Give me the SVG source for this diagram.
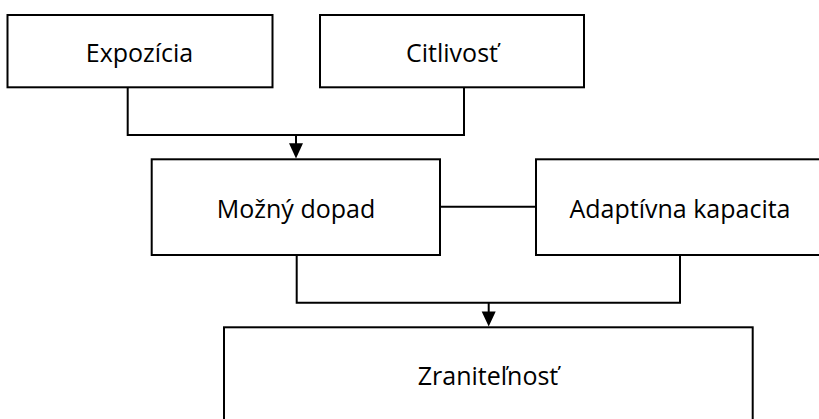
<svg xmlns="http://www.w3.org/2000/svg" width="819" height="419" viewBox="0 0 819 419">
<style>
.box{fill:#fff;stroke:#000;stroke-width:2}
.lbl{font-family:"Open Sans","Noto Sans",sans-serif;font-size:25px;fill:#000;text-anchor:middle}
.con{fill:none;stroke:#000;stroke-width:2}
.head{fill:#000}
</style>
<rect width="819" height="419" fill="#fff"/>
<g id="connectors">
<polyline class="con" points="127.7,87.3 127.7,135 464,135 464,87.3"/>
<line class="con" x1="296" y1="135" x2="296" y2="145"/>
<polygon class="head" points="289,143.3 303,143.3 296,158.5"/>
<line class="con" x1="440" y1="206.7" x2="536" y2="206.7"/>
<polyline class="con" points="296.7,255 296.7,302.7 680,302.7 680,255"/>
<line class="con" x1="488.7" y1="302.7" x2="488.7" y2="313"/>
<polygon class="head" points="481.7,311.5 495.7,311.5 488.7,326.5"/>
</g>
<g id="expozicia">
<rect class="box" x="7.5" y="15" width="265" height="72.3"/>
<text class="lbl" x="139.5" y="61.7">Expozícia</text>
</g>
<g id="citlivost">
<rect class="box" x="320" y="15" width="264" height="72.3"/>
<text class="lbl" x="452" y="61.7">Citlivosť</text>
</g>
<g id="mozny-dopad">
<rect class="box" x="151.7" y="159.3" width="288.3" height="95.7"/>
<text class="lbl" x="296" y="218.3">Možný dopad</text>
</g>
<g id="adaptivna-kapacita">
<rect class="box" x="536" y="159.3" width="300" height="95.7"/>
<text class="lbl" x="680" y="217.7">Adaptívna kapacita</text>
</g>
<g id="zranitelnost">
<rect class="box" x="224" y="327.3" width="528.7" height="120"/>
<text class="lbl" x="488" y="385">Zraniteľnosť</text>
</g>
</svg>
